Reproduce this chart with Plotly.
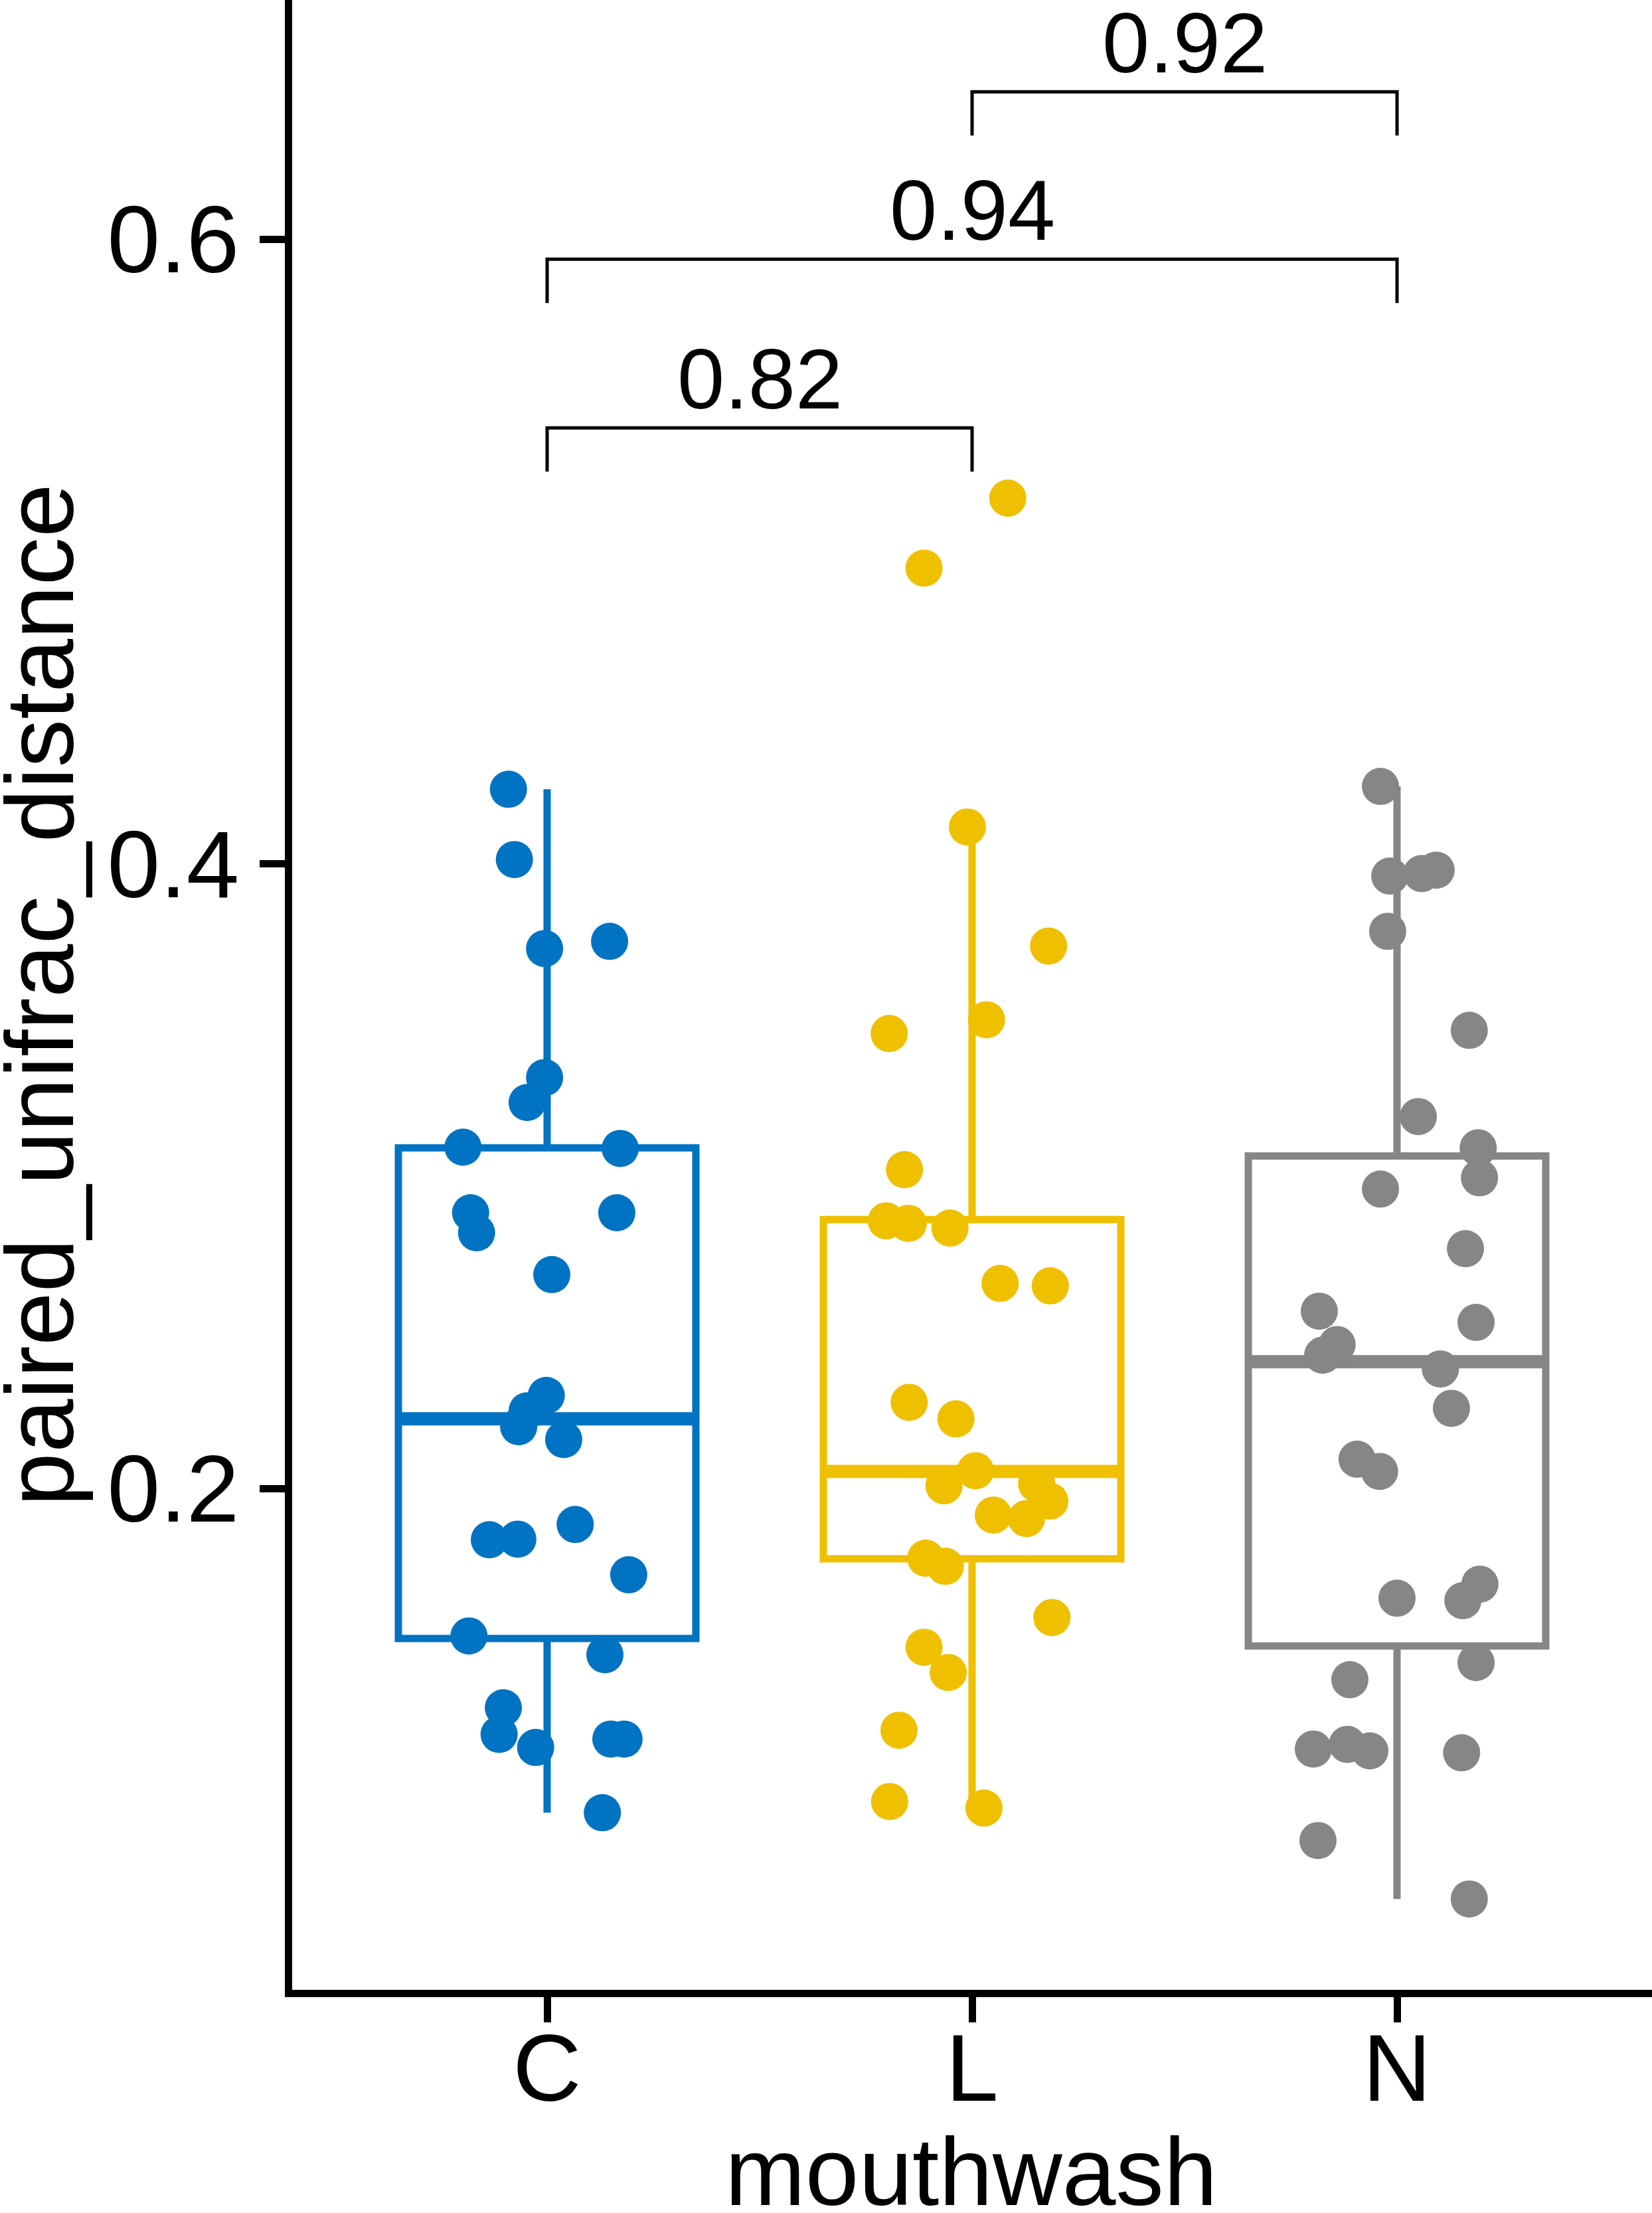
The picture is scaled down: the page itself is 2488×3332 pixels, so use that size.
import plotly.graph_objects as go

# ---------------- data ----------------
groups = ["C", "L", "N"]
group_pos = [1, 2, 3]
colors = ["#0073C2", "#EFC000", "#868686"]

c_values = [0.4239, 0.4014, 0.3729, 0.3752, 0.3316, 0.3236, 0.3093, 0.3089, 0.2883, 0.2819,
            0.2883, 0.2685, 0.2298, 0.2249, 0.2198, 0.2157, 0.1836, 0.1838, 0.1885, 0.1724,
            0.1528, 0.1468, 0.1298, 0.1213, 0.1171, 0.1198, 0.1198, 0.0962]
c_jitter = [-0.091, -0.077, -0.006, 0.147, -0.006, -0.047, -0.198, 0.172, -0.180, -0.166,
            0.164, 0.011, -0.002, -0.047, -0.067, 0.039, -0.136, -0.069, 0.066, 0.192,
            -0.184, 0.136, -0.103, -0.113, -0.027, 0.150, 0.181, 0.130]

l_values = [0.5171, 0.4947, 0.4118, 0.3737, 0.3457, 0.3501, 0.3021, 0.2857, 0.2849, 0.2834,
            0.2657, 0.2649, 0.2276, 0.2223, 0.2057, 0.2009, 0.2015, 0.1960, 0.1915, 0.1904,
            0.1777, 0.1751, 0.1587, 0.1492, 0.1411, 0.1226, 0.0998, 0.0977]
l_jitter = [0.084, -0.113, -0.011, 0.180, -0.195, 0.034, -0.159, -0.202, -0.150, -0.052,
            0.066, 0.184, -0.148, -0.038, 0.008, -0.066, 0.152, 0.183, 0.050, 0.128,
            -0.109, -0.063, 0.188, -0.113, -0.056, -0.172, -0.194, 0.028]

n_values = [0.4248, 0.3961, 0.3969, 0.3980, 0.3784, 0.3467, 0.3191, 0.3091, 0.2995, 0.2959,
            0.2768, 0.2568, 0.2532, 0.2461, 0.2427, 0.2383, 0.2257, 0.2094, 0.2055, 0.1649,
            0.1694, 0.1641, 0.1443, 0.1388, 0.1166, 0.1181, 0.1160, 0.1154, 0.0873, 0.0686]
n_jitter = [-0.039, -0.017, 0.058, 0.092, -0.022, 0.170, 0.050, 0.191, 0.194, -0.039,
            0.161, -0.183, 0.186, -0.141, -0.175, 0.102, 0.128, -0.094, -0.041, 0.000,
            0.195, 0.155, 0.186, -0.111, -0.197, -0.117, -0.064, 0.152, -0.186, 0.170]

# box statistics
box_q1 = [0.1520, 0.1775, 0.1496]
box_median = [0.2223, 0.2055, 0.2406]
box_q3 = [0.3091, 0.2861, 0.3065]
box_low = [0.0962, 0.0977, 0.0686]
box_high = [0.4239, 0.4118, 0.4248]

# pairwise comparisons
comp_from = ["C", "C", "L"]
comp_to = ["L", "N", "N"]
comp_y = [0.5396, 0.5936, 0.6472]
comp_label = ["0.82", "0.94", "0.92"]
tip_len = 0.014

y_ticks = [0.2, 0.4, 0.6]
y_ticktext = ["0.2", "0.4", "0.6"]
x_title = "mouthwash"
y_title = "paired_unifrac_distance"

# ---------------- figure ----------------
FONT = "Liberation Sans, Arial, sans-serif"
BOX_W = 0.7
W, H = 2488, 3332
ML, MB = 440, 336
PW, PH = W - ML, H - MB

fig = go.Figure()

values = [c_values, l_values, n_values]
jitters = [c_jitter, l_jitter, n_jitter]

for i, g in enumerate(groups):
    fig.add_trace(go.Box(
        x=[group_pos[i]], q1=[box_q1[i]], median=[box_median[i]], q3=[box_q3[i]],
        lowerfence=[box_low[i]], upperfence=[box_high[i]],
        width=BOX_W, whiskerwidth=0, fillcolor="white",
        line=dict(color=colors[i], width=11), boxpoints=False,
        showlegend=False, hoverinfo="skip", name=g,
    ))

# thicker median lines (ggplot style)
for i, g in enumerate(groups):
    fig.add_trace(go.Scatter(
        x=[group_pos[i] - BOX_W / 2, group_pos[i] + BOX_W / 2],
        y=[box_median[i], box_median[i]],
        mode="lines", line=dict(color=colors[i], width=20),
        showlegend=False, hoverinfo="skip",
    ))

# jittered points
for i, g in enumerate(groups):
    fig.add_trace(go.Scatter(
        x=[group_pos[i] + j for j in jitters[i]], y=values[i],
        mode="markers", marker=dict(color=colors[i], size=56, line=dict(width=0)),
        showlegend=False, hoverinfo="skip", name=g,
    ))

# comparison brackets
pos_of = dict(zip(groups, group_pos))
annotations = []
for a, b, yv, lab in zip(comp_from, comp_to, comp_y, comp_label):
    x1, x2 = pos_of[a], pos_of[b]
    fig.add_trace(go.Scatter(
        x=[x1, x1, x2, x2], y=[yv - tip_len, yv, yv, yv - tip_len],
        mode="lines", line=dict(color="black", width=5),
        showlegend=False, hoverinfo="skip",
    ))
    annotations.append(dict(
        x=(x1 + x2) / 2, y=yv, xref="x", yref="y", text=lab, showarrow=False,
        yanchor="bottom", xanchor="center", yshift=0,
        font=dict(family=FONT, size=128, color="black"),
    ))

# axis titles as paper annotations (exact placement)
annotations.append(dict(
    x=(60 - ML) / PW, y=0.5, xref="paper", yref="paper", text=y_title,
    textangle=-90, showarrow=False, xanchor="center", yanchor="middle",
    font=dict(family=FONT, size=145, color="black"),
))
annotations.append(dict(
    x=(1463 - ML) / PW, y=-(3270 - PH) / PH, xref="paper", yref="paper", text=x_title,
    showarrow=False, xanchor="center", yanchor="middle",
    font=dict(family=FONT, size=145, color="black"),
))

fig.update_layout(
    width=W, height=H,
    margin=dict(l=ML, r=0, t=0, b=MB, pad=0),
    paper_bgcolor="white", plot_bgcolor="white",
    font=dict(family=FONT, color="black"),
    annotations=annotations,
    showlegend=False,
)
fig.update_xaxes(
    range=[0.4, 3.6], tickvals=group_pos, ticktext=groups,
    showline=True, linewidth=11, linecolor="black",
    ticks="outside", ticklen=38, tickwidth=11, tickcolor="black",
    showgrid=False, zeroline=False, automargin=False,
    tickfont=dict(family=FONT, size=143, color="black"),
    ticklabelstandoff=-54,
)
fig.update_yaxes(
    range=[0.0395, 0.6766], tickvals=y_ticks, ticktext=y_ticktext,
    showline=True, linewidth=11, linecolor="black",
    ticks="outside", ticklen=38, tickwidth=11, tickcolor="black",
    showgrid=False, zeroline=False, automargin=False,
    tickfont=dict(family=FONT, size=143, color="black"),
    ticklabelstandoff=2,
)

fig.write_html(
    "out.html",
    config={"displayModeBar": False},
    post_script="document.body.style.margin='0';document.body.style.padding='0';",
)
